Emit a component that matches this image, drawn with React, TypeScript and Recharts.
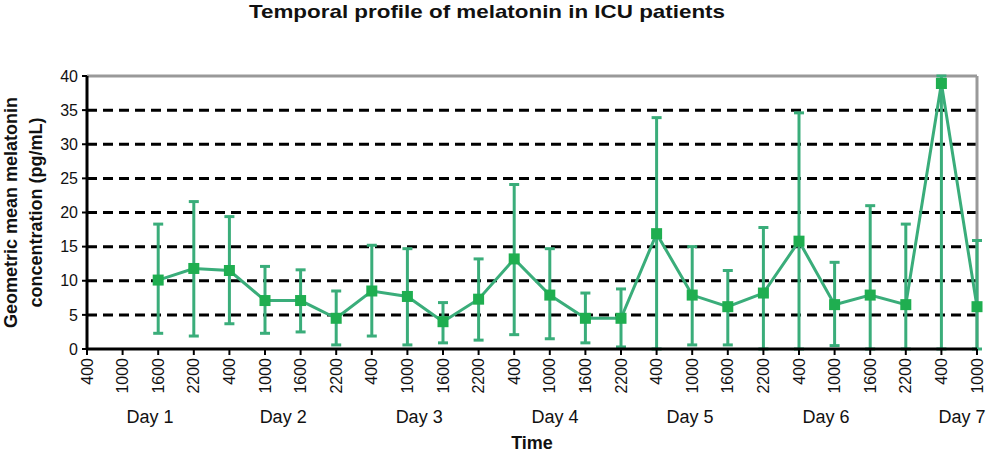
import React from "react";
import { LineChart, Line, XAxis, YAxis, ErrorBar, ReferenceLine } from "recharts";

const FONT = "'Liberation Sans', Arial, sans-serif";

// sampling times, 4 per day, day 7 only has two
const timeLabels = [
  "400", "1000", "1600", "2200",
  "400", "1000", "1600", "2200",
  "400", "1000", "1600", "2200",
  "400", "1000", "1600", "2200",
  "400", "1000", "1600", "2200",
  "400", "1000", "1600", "2200",
  "400", "1000",
];
const dayLabels = ["Day 1", "Day 2", "Day 3", "Day 4", "Day 5", "Day 6", "Day 7"];

// geometric mean melatonin (pg/mL) and the error bar ends
const geoMean = [
  null, null, 10.1, 11.8,
  11.5, 7.1, 7.1, 4.5,
  8.5, 7.7, 4.0, 7.3,
  13.2, 7.9, 4.5, 4.5,
  16.9, 7.9, 6.2, 8.2,
  15.8, 6.5, 7.9, 6.5,
  38.9, 6.2,
];
const upperEnd = [
  null, null, 18.3, 21.6,
  19.4, 12.1, 11.6, 8.5,
  15.2, 14.7, 6.8, 13.2,
  24.1, 14.7, 8.2, 8.8,
  33.9, 15.0, 11.5, 17.8,
  34.6, 12.7, 21.0, 18.3,
  40, 15.9,
];
const lowerEnd = [
  null, null, 2.3, 1.9,
  3.7, 2.3, 2.5, 0.6,
  1.9, 0.6, 0.9, 1.3,
  2.1, 1.5, 0.9, 0.3,
  0, 0.6, 0.6, 0,
  0, 0.5, 0, 0,
  0, 0,
];

const yTicks = [0, 5, 10, 15, 20, 25, 30, 35, 40];
const gridValues = [5, 10, 15, 20, 25, 30, 35];

// where the day captions sit, measured in time slots along the axis
const dayCaptionSlots = [1.77, 5.51, 9.33, 13.15, 16.94, 20.76, 24.58];

const data = timeLabels.map((t, i) => ({
  slot: `${i}-${t}`,
  mean: geoMean[i],
  err: geoMean[i] == null ? null : [geoMean[i] - lowerEnd[i], upperEnd[i] - geoMean[i]],
}));

const LINE_GREEN = "#3aad7a";
const MARK_GREEN = "#1fae50";

function TimeTick(props: any) {
  const { x, y, payload } = props;
  const label = String(payload.value).split("-")[1];
  return (
    <text
      x={x}
      y={y}
      transform={`rotate(-90, ${x}, ${y})`}
      textAnchor="end"
      dy="0.35em"
      fontSize={16}
      fontFamily={FONT}
      fill="#111"
    >
      {label}
    </text>
  );
}

function SquareDot(props: any) {
  const { cx, cy, value } = props;
  if (value == null || cx == null || cy == null) return <g />;
  return <rect x={cx - 5.5} y={cy - 5.5} width={11} height={11} fill={MARK_GREEN} />;
}

const renderYLabel = (props: any) => {
  const vb = props.viewBox || {};
  const cy = vb.height ? vb.y + vb.height / 2 : 212;
  return (
    <g fontFamily={FONT} fontWeight="bold" fontSize={18} fill="#111">
      <text x={11} y={cy} transform={`rotate(-90, 11, ${cy})`} textAnchor="middle" dominantBaseline="central">
        Geometric mean melatonin
      </text>
      <text x={36} y={cy} transform={`rotate(-90, 36, ${cy})`} textAnchor="middle" dominantBaseline="central">
        concentration (pg/mL)
      </text>
    </g>
  );
};

const renderTimeLabel = (props: any) => {
  const vb = props.viewBox || {};
  const cx = vb.width ? vb.x + vb.width / 2 : 532;
  return (
    <text x={cx} y={449} textAnchor="middle" fontFamily={FONT} fontWeight="bold" fontSize={18} fill="#111">
      Time
    </text>
  );
};

export default function App() {
  return (
    <div style={{ position: "absolute", left: 0, top: 0, width: 991, height: 456, background: "#fff" }}>
      <div style={{ position: "absolute", left: 0, top: 0 }}>
        <LineChart width={991} height={456} data={data} margin={{ top: 76, right: 14, left: 0, bottom: 7 }}>
          {gridValues.map((v) => (
            <ReferenceLine key={v} y={v} stroke="#000" strokeWidth={3} strokeDasharray="10 6" />
          ))}
          <ReferenceLine y={40} stroke="#999" strokeWidth={3} />
          <ReferenceLine x={data[data.length - 1].slot} stroke="#999" strokeWidth={3} />
          <XAxis
            dataKey="slot"
            interval={0}
            height={50}
            tick={<TimeTick />}
            tickSize={6}
            tickMargin={3}
            axisLine={{ stroke: "#000", strokeWidth: 3 }}
            tickLine={{ stroke: "#000", strokeWidth: 2 }}
          />
          <XAxis
            xAxisId="day"
            type="number"
            domain={[0, timeLabels.length - 1]}
            allowDataOverflow
            ticks={dayCaptionSlots}
            interval={0}
            tickFormatter={(_v: number, i: number) => dayLabels[i]}
            axisLine={false}
            tickLine={false}
            tickSize={0}
            tickMargin={11}
            height={50}
            tick={{ fontSize: 18, fill: "#111", fontFamily: FONT }}
            label={renderTimeLabel}
          />
          <YAxis
            width={87}
            domain={[0, 40]}
            ticks={yTicks}
            interval={0}
            tick={{ fontSize: 16, fill: "#111", fontFamily: FONT }}
            tickSize={5}
            tickMargin={4}
            axisLine={{ stroke: "#000", strokeWidth: 3 }}
            tickLine={{ stroke: "#000", strokeWidth: 2 }}
            label={renderYLabel}
          />
          <Line
            dataKey="mean"
            stroke={LINE_GREEN}
            strokeWidth={3}
            dot={<SquareDot />}
            activeDot={false}
            isAnimationActive={false}
          >
            <ErrorBar dataKey="err" direction="y" width={5} stroke={LINE_GREEN} strokeWidth={3} />
          </Line>
        </LineChart>
      </div>
      <svg width={991} height={30} style={{ position: "absolute", left: 0, top: 0 }}>
        <text
          x={487}
          y={18}
          textAnchor="middle"
          fontFamily={FONT}
          fontWeight="bold"
          fontSize={19}
          textLength={476}
          lengthAdjust="spacingAndGlyphs"
          fill="#111"
        >
          Temporal profile of melatonin in ICU patients
        </text>
      </svg>
    </div>
  );
}
